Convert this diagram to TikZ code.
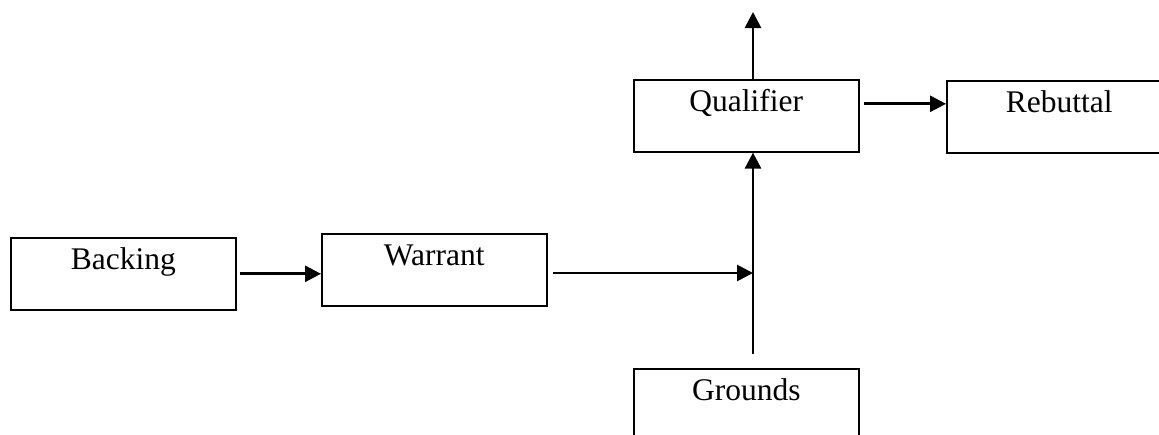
\documentclass[tikz,border=0pt]{standalone}
\usepackage{fontspec}
\setmainfont{Liberation Serif}
\usetikzlibrary{arrows.meta}
\tikzset{
  box/.style={draw, line width=1.6pt, inner sep=0pt, minimum width=225pt,
    text height=32pt, text depth=40pt, font=\fontsize{31.5}{36}\selectfont},
  arr/.style={line width=2.8pt, -{Triangle[length=16pt,width=16pt]}}
}
\begin{document}
\begin{tikzpicture}[x=1pt, y=-1pt]
  \useasboundingbox (0,0) rectangle (1159,434);
  \clip (0,0) rectangle (1159,434);
  \node (b)[box, anchor=north west] at (10,237) {Backing};
  \node (w)[box, anchor=north west] at (321,233) {Warrant};
  \node (q)[box, anchor=north west] at (633,79) {Qualifier};
  \node (r)[box, anchor=north west] at (946,80) {Rebuttal};
  \node (g)[box, anchor=north west] at (633,368) {Grounds};
  \coordinate (j) at (753,273);
  \coordinate (t) at (753,12);
  \draw[arr, shorten <=3pt] (b.east) -- (w.west |- b.east);
  \draw[arr, shorten <=5pt] (w.east |- j) -- (j);
  \draw[arr, shorten <=14pt] (j |- g.north) -- (j |- q.south);
  \draw[arr] (j |- q.north) -- (t);
  \draw[arr, shorten <=4pt] ([yshift=12pt]q.east) -- ([yshift=12pt]q.east -| r.west);
\end{tikzpicture}
\end{document}
